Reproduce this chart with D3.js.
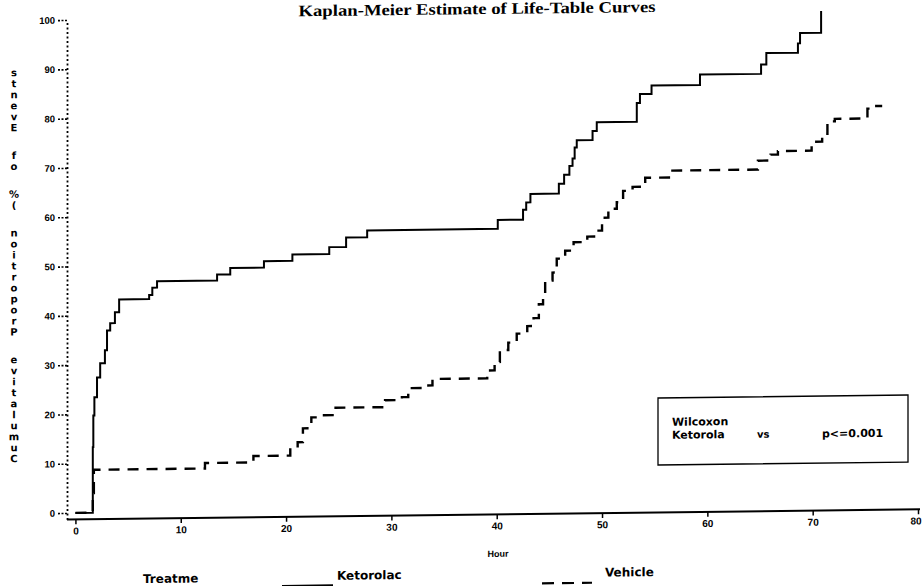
<!DOCTYPE html>
<html>
<head>
<meta charset="utf-8">
<script src="https://cdn.jsdelivr.net/npm/d3@7"></script>
<style>
  html, body { margin: 0; padding: 0; background: #fff; }
  svg { display: block; }
</style>
</head>
<body>
<svg id="chart" width="922" height="586"></svg>
<script>
// Kaplan-Meier cumulative event curves: event hour and cumulative % after that event
const ketorolacHours = [0, 1.6, 1.65, 1.7, 1.8, 2.05, 2.35, 2.8, 3.0, 3.3, 3.75, 4.15, 7.0, 7.3, 7.75,
  13.45, 14.7, 17.9, 20.6, 24.1, 25.7, 27.7, 40.1, 42.5, 42.8, 43.2, 45.9, 46.4, 46.9, 47.2,
  47.4, 47.6, 49.1, 49.5, 53.3, 53.6, 54.7, 59.3, 65.1, 65.6, 68.6, 68.8, 70.8];
const ketorolacPct = [0, 0, 13.3, 19.7, 23.4, 27.4, 30.3, 32.9, 36.9, 38.4, 40.6, 43.2, 44.0, 45.5, 46.8,
  48.0, 49.3, 50.6, 51.9, 53.3, 55.2, 56.6, 58.4, 60.4, 61.9, 63.6, 65.6, 67.4, 69.2, 70.7,
  72.9, 74.4, 76.2, 78.0, 81.8, 83.6, 85.3, 87.4, 89.3, 91.6, 93.5, 95.6, 100];

const vehicleHours = [0, 1.65, 1.75, 12.3, 16.9, 20.4, 21.1, 21.6, 22.4, 23.4, 24.7, 29.4, 31.0, 31.6,
  33.0, 33.9, 39.1, 39.8, 40.3, 41.1, 41.9, 42.9, 43.5, 44.0, 44.4, 44.6, 45.3, 45.7, 46.5, 47.3,
  48.6, 49.5, 50.0, 50.6, 51.4, 52.0, 52.9, 54.1, 56.5, 64.8, 66.0, 66.7, 69.9, 70.9, 71.4, 72.1,
  75.2, 75.9, 76.6];
const vehiclePct = [0, 4.0, 8.7, 9.8, 11.1, 12.7, 13.8, 16.6, 18.8, 19.2, 20.7, 22.1, 22.7, 24.5,
  25.0, 26.3, 27.9, 29.6, 32.0, 33.5, 35.3, 36.8, 38.4, 41.2, 43.0, 46.0, 47.6, 50.4, 52.0, 53.7,
  54.8, 56.0, 58.6, 60.4, 61.7, 64.0, 64.8, 66.6, 68.0, 69.8, 71.0, 71.7, 73.5, 75.1, 77.6, 78.1,
  80.1, 80.6, 80.6];

const xTicks = [0, 10, 20, 30, 40, 50, 60, 70, 80];
const yTicks = [0, 10, 20, 30, 40, 50, 60, 70, 80, 90, 100];

const titleText = "Kaplan-Meier Estimate of Life-Table Curves";
const yLabelText = "Cumulative Proportion (% of Events";
const xLabelText = "Hour";
const legendTitle = "Treatme";
const seriesNames = ["Ketorolac", "Vehicle"];
const testLines = ["Wilcoxon", "Ketorola", "vs", "p<=0.001"];

const ink = "#000";
const svg = d3.select("#chart");

// whole page sits on a slightly tilted baseline
const page = svg.append("g")
  .attr("transform", "translate(67,0) skewY(-0.68) translate(-67,0)");

const x = d3.scaleLinear().domain([-0.8, 80]).range([67, 918]);
const y = d3.scaleLinear().domain([-1.3, 100]).range([519.4, 20]);

// title
page.append("text")
  .attr("x", 477).attr("y", 19)
  .attr("text-anchor", "middle")
  .attr("font-family", "Liberation Serif, serif")
  .attr("font-weight", "bold")
  .attr("font-size", 16)
  .attr("textLength", 357)
  .attr("lengthAdjust", "spacingAndGlyphs")
  .attr("fill", ink)
  .text(titleText);

// x axis
const xAxis = page.append("g")
  .attr("transform", `translate(0,${y(-1.3)})`)
  .call(d3.axisBottom(x).tickValues(xTicks).tickSize(5).tickSizeOuter(0).tickFormat(d3.format("d")));
xAxis.select(".domain").attr("stroke", ink).attr("stroke-width", 2)
  .attr("d", `M67,0H920`);
xAxis.selectAll(".tick line").attr("stroke", ink).attr("stroke-width", 1.5);
xAxis.selectAll(".tick text")
  .attr("font-family", "Liberation Sans, Arial, sans-serif")
  .attr("font-weight", "bold").attr("font-size", 10).attr("fill", ink);
// keep the last tick label inside the right edge
xAxis.selectAll(".tick text").filter(d => d === xTicks[xTicks.length - 1])
  .attr("text-anchor", "end").attr("x", 3);

// y axis (dotted)
const yAxis = page.append("g")
  .attr("transform", "translate(67,0)")
  .call(d3.axisLeft(y).tickValues(yTicks).tickSize(9).tickPadding(3).tickSizeOuter(0));
yAxis.select(".domain").attr("stroke", ink).attr("stroke-width", 1.8)
  .attr("stroke-dasharray", "2,2.5");
yAxis.selectAll(".tick line").attr("stroke", ink).attr("stroke-width", 1.6)
  .attr("stroke-dasharray", "2,1.5");
yAxis.selectAll(".tick text")
  .attr("font-family", "Liberation Sans, Arial, sans-serif")
  .attr("font-weight", "bold").attr("font-size", 9.5).attr("fill", ink);

// y axis title: stacked upright letters, reading bottom to top
{
  let yy = 458;
  const label = page.append("g")
    .attr("font-family", "DejaVu Sans, sans-serif")
    .attr("font-weight", "bold").attr("font-size", 10).attr("fill", ink)
    .attr("text-anchor", "middle");
  const chars = Array.from(yLabelText);
  chars.forEach((c) => {
    if (c === " ") { yy -= 16.75; return; }
    label.append("text").attr("x", 14).attr("y", yy + 3.5).text(c);
    yy -= 11;
  });
}

// x axis title
page.append("text")
  .attr("x", 498).attr("y", 562)
  .attr("text-anchor", "middle")
  .attr("font-family", "Liberation Sans, Arial, sans-serif")
  .attr("font-weight", "bold").attr("font-size", 9).attr("fill", ink)
  .text(xLabelText);

// curves
const line = d3.line()
  .x(d => x(d[0]))
  .y(d => y(d[1]))
  .curve(d3.curveStepAfter);

const ketorolac = ketorolacHours.map((h, i) => [h, ketorolacPct[i]]);
const vehicle = vehicleHours.map((h, i) => [h, vehiclePct[i]]);

page.append("path")
  .datum(vehicle)
  .attr("d", line)
  .attr("fill", "none")
  .attr("stroke", ink)
  .attr("stroke-width", 2.4)
  .attr("stroke-dasharray", "11,8");

page.append("path")
  .datum(ketorolac)
  .attr("d", line)
  .attr("fill", "none")
  .attr("stroke", ink)
  .attr("stroke-width", 2);

// test box
const box = page.append("g")
  .attr("font-family", "DejaVu Sans, sans-serif")
  .attr("font-weight", "bold").attr("font-size", 11).attr("fill", ink);
box.append("rect")
  .attr("x", 658).attr("y", 405).attr("width", 250).attr("height", 67)
  .attr("fill", "none").attr("stroke", ink).attr("stroke-width", 1.3);
box.append("text").attr("x", 672).attr("y", 433).text(testLines[0]);
box.append("text").attr("x", 672).attr("y", 446).text(testLines[1]);
box.append("text").attr("x", 757).attr("y", 446).attr("font-size", 10).text(testLines[2]);
box.append("text").attr("x", 822).attr("y", 446.5).attr("font-size", 11).text(testLines[3]);

// legend
const legend = page.append("g")
  .attr("font-family", "DejaVu Sans, sans-serif")
  .attr("font-weight", "bold").attr("font-size", 12).attr("fill", ink);
legend.append("text").attr("x", 143).attr("y", 584).text(legendTitle);
legend.append("line").attr("x1", 282).attr("x2", 333).attr("y1", 588.5).attr("y2", 588.5)
  .attr("stroke", ink).attr("stroke-width", 2);
legend.append("text").attr("x", 337).attr("y", 583).text(seriesNames[0]);
legend.append("line").attr("x1", 542).attr("x2", 592).attr("y1", 589).attr("y2", 589)
  .attr("stroke", ink).attr("stroke-width", 2.2).attr("stroke-dasharray", "12,8");
legend.append("text").attr("x", 605).attr("y", 583).text(seriesNames[1]);
</script>
</body>
</html>
